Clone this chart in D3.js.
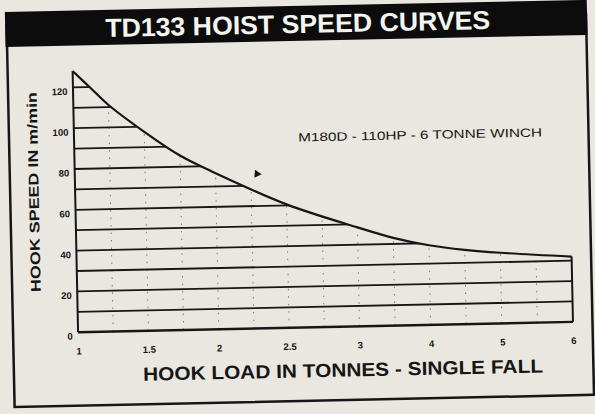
<!DOCTYPE html>
<html>
<head>
<meta charset="utf-8">
<script src="https://cdn.jsdelivr.net/npm/d3@7"></script>
<style>
  body { margin: 0; background: #e9e7e0; }
  svg { display: block; font-family: 'Liberation Sans', Arial, sans-serif; }
</style>
</head>
<body>
<svg></svg>
<script>
const loads = [1, 1.125, 1.25, 1.5, 1.75, 2, 2.5, 3, 3.5, 4, 4.5, 5, 6];
const speeds = [128, 119.5, 111, 97.5, 85.5, 76.5, 60.5, 48.5, 43, 39, 36.4, 34.6, 32];

const loadTicks = [1, 1.5, 2, 2.5, 3, 4, 5, 6];
const speedTicks = [0, 20, 40, 60, 80, 100, 120];
const gridSpeeds = [10, 20, 30, 40, 50, 60, 70, 80, 90, 100, 110, 120];
const dotLoads = [1.25, 1.5, 1.75, 2, 2.25, 2.5, 2.75, 3, 3.5, 4, 4.5, 5, 5.5];

const TITLE = 'TD133 HOIST SPEED CURVES';
const X_TITLE = 'HOOK LOAD IN TONNES - SINGLE FALL';
const Y_TITLE = 'HOOK SPEED IN m/min';
const NOTE = 'M180D - 110HP - 6 TONNE WINCH';

const WIDTH = 595;
const HEIGHT = 414;
const INK = '#161616';

const svg = d3.select('svg')
    .attr('width', WIDTH)
    .attr('height', HEIGHT);

svg.append('rect')
    .attr('width', WIDTH)
    .attr('height', HEIGHT)
    .attr('fill', '#e9e7e0');

// the scan is a little crooked, so tilt everything the same way
const g = svg.append('g')
    .attr('transform', 'rotate(-1.2, 297.5, 207)');

// x axis is not linear: 1-3 is stretched, 3-6 is squeezed
const x = d3.scaleLinear()
    .domain([1, 3, 6])
    .range([75.5, 357, 570.5]);
const y = d3.scaleLinear()
    .domain([0, 120])
    .range([327.6, 82.7]);

// frame + title bar
g.append('rect')
    .attr('x', 10.5)
    .attr('y', 20)
    .attr('width', 579.5)
    .attr('height', 381)
    .attr('fill', 'none')
    .attr('stroke', INK)
    .attr('stroke-width', 2.5);
g.append('rect')
    .attr('x', 9)
    .attr('y', 6)
    .attr('width', 582)
    .attr('height', 35)
    .attr('fill', '#0c0c0c');
g.append('text')
    .attr('x', 301.5)
    .attr('y', 33)
    .attr('text-anchor', 'middle')
    .attr('fill', '#f4f4f0')
    .attr('font-size', 26)
    .attr('font-weight', 'bold')
    .attr('textLength', 385)
    .attr('lengthAdjust', 'spacingAndGlyphs')
    .text(TITLE);

const points = loads.map((d, i) => [x(d), y(speeds[i])]);

// smooth through the read-off points in screen space
const curve = d3.curveCatmullRom.alpha(0.5);
const area = d3.area()
    .x((d) => d[0])
    .y0(y(0))
    .y1((d) => d[1])
    .curve(curve);
const line = d3.line()
    .curve(curve);

g.append('clipPath')
    .attr('id', 'under')
  .append('path')
    .attr('d', area(points));

const grid = g.append('g')
    .attr('clip-path', 'url(#under)');

grid.selectAll('line.dot')
    .data(dotLoads)
  .enter().append('line')
    .attr('class', 'dot')
    .attr('x1', (d) => x(d))
    .attr('x2', (d) => x(d))
    .attr('y1', y(0))
    .attr('y2', y(130))
    .attr('stroke', '#7a7a7a')
    .attr('stroke-width', 1)
    .attr('stroke-dasharray', '1.5,6');

grid.selectAll('line.h')
    .data(gridSpeeds)
  .enter().append('line')
    .attr('class', 'h')
    .attr('x1', x(1))
    .attr('x2', x(6))
    .attr('y1', (d) => y(d))
    .attr('y2', (d) => y(d))
    .attr('stroke', INK)
    .attr('stroke-width', 1.8);

// outline: baseline, both ends, and the curve
g.append('line')
    .attr('x1', x(1))
    .attr('x2', x(6))
    .attr('y1', y(0))
    .attr('y2', y(0))
    .attr('stroke', INK)
    .attr('stroke-width', 2.4);
g.append('line')
    .attr('x1', x(1))
    .attr('x2', x(1))
    .attr('y1', y(0))
    .attr('y2', y(speeds[0]))
    .attr('stroke', INK)
    .attr('stroke-width', 2);
g.append('line')
    .attr('x1', x(6))
    .attr('x2', x(6))
    .attr('y1', y(0))
    .attr('y2', y(speeds[speeds.length - 1]))
    .attr('stroke', INK)
    .attr('stroke-width', 2);
g.append('path')
    .attr('d', line(points))
    .attr('fill', 'none')
    .attr('stroke', INK)
    .attr('stroke-width', 2.2);

// axes (labels only)
const xAxis = g.append('g')
    .attr('transform', 'translate(0, 343)')
    .call(d3.axisBottom(x)
        .tickValues(loadTicks)
        .tickFormat((d) => String(d))
        .tickSize(0)
        .tickPadding(0));
const yAxis = g.append('g')
    .attr('transform', 'translate(70, 0)')
    .call(d3.axisLeft(y)
        .tickValues(speedTicks)
        .tickSize(0)
        .tickPadding(0));
[xAxis, yAxis].forEach((ax) => {
  ax.select('.domain').remove();
  ax.selectAll('text')
      .attr('fill', INK)
      .attr('font-size', 9.5)
      .attr('font-weight', 'bold')
      .attr('font-family', "'Liberation Sans', Arial, sans-serif");
});
yAxis.selectAll('text').attr('dy', '0.72em');

g.append('text')
    .attr('x', 339.6)
    .attr('y', 377.5)
    .attr('text-anchor', 'middle')
    .attr('fill', INK)
    .attr('font-size', 19)
    .attr('font-weight', 'bold')
    .attr('textLength', 400)
    .attr('lengthAdjust', 'spacingAndGlyphs')
    .text(X_TITLE);

g.append('text')
    .attr('transform', 'translate(39, 186.5) rotate(-90)')
    .attr('text-anchor', 'middle')
    .attr('fill', INK)
    .attr('font-size', 14)
    .attr('font-weight', 'bold')
    .attr('textLength', 200)
    .attr('lengthAdjust', 'spacingAndGlyphs')
    .text(Y_TITLE);

g.append('text')
    .attr('x', 299.5)
    .attr('y', 141.6)
    .attr('fill', INK)
    .attr('font-size', 12)
    .attr('textLength', 244)
    .attr('lengthAdjust', 'spacingAndGlyphs')
    .text(NOTE);

g.append('path')
    .attr('d', d3.symbol(d3.symbolTriangle, 28)())
    .attr('transform', 'translate(257.7, 173) rotate(-25)')
    .attr('fill', INK);
</script>
</body>
</html>
